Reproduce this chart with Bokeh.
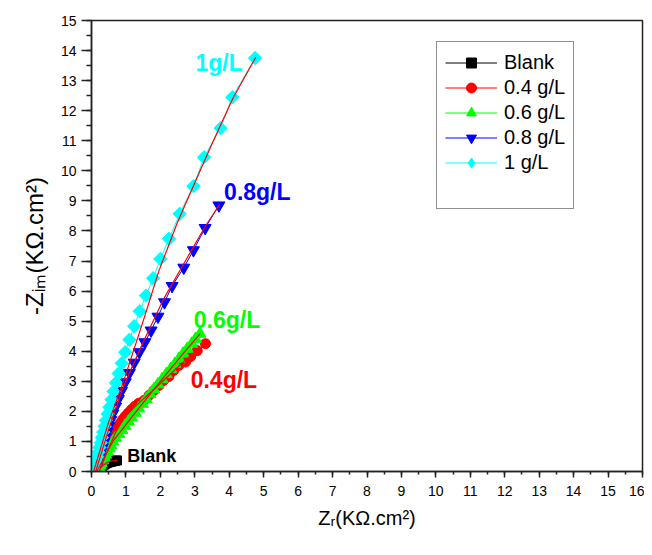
import math
from bokeh.plotting import figure
from bokeh.models import Range1d, SingleIntervalTicker, Legend, LegendItem
from bokeh.core.properties import value
from bokeh.embed import file_html
from bokeh.resources import INLINE

FONT = "Liberation Sans"

series_names = ["Blank", "0.4 g/L", "0.6 g/L", "0.8 g/L", "1 g/L"]
series_colors = ["#000000", "#FF0000", "#00FF00", "#0000FF", "#00FFFF"]
series_markers = ["square", "circle", "triangle", "inverted_triangle", "square"]
legend_markers = ["square", "circle", "triangle", "inverted_triangle", "diamond"]
marker_angles = [0, 0, 0, 0, math.pi / 4]
marker_sizes = [9, 10, 12, 12, 9.5]

blank_x = [0.22, 0.26, 0.30, 0.34, 0.38, 0.42, 0.46, 0.50, 0.54, 0.58, 0.62, 0.66, 0.70, 0.74]
blank_y = [0.05, 0.12, 0.17, 0.21, 0.24, 0.27, 0.29, 0.31, 0.32, 0.33, 0.34, 0.35, 0.36, 0.37]

c04_x = [0.25, 0.29, 0.33, 0.38, 0.43, 0.48, 0.53, 0.58, 0.64, 0.70, 0.76, 0.83, 0.90, 0.98, 1.07,
         1.16, 1.26, 1.37, 1.52, 1.67, 1.81, 1.96, 2.10, 2.25, 2.39, 2.54, 2.73, 2.88, 3.07, 3.31]
c04_y = [0.10, 0.22, 0.35, 0.48, 0.62, 0.76, 0.90, 1.04, 1.18, 1.32, 1.46, 1.60, 1.72, 1.84, 1.95,
         2.06, 2.17, 2.27, 2.36, 2.53, 2.69, 2.86, 3.03, 3.16, 3.36, 3.53, 3.64, 3.82, 4.02, 4.25]

c06_x = [0.18, 0.21, 0.25, 0.28, 0.33, 0.37, 0.41, 0.46, 0.51, 0.56, 0.62, 0.70, 0.79, 0.88, 0.97,
         1.07, 1.16, 1.27, 1.37, 1.48, 1.59, 1.70, 1.81, 1.93, 2.05, 2.17, 2.30, 2.42, 2.54, 2.66,
         2.78, 2.91, 3.02, 3.15]
c06_y = [0.05, 0.12, 0.20, 0.28, 0.37, 0.46, 0.56, 0.66, 0.77, 0.88, 1.00, 1.12, 1.25, 1.38, 1.52,
         1.66, 1.80, 1.95, 2.10, 2.25, 2.41, 2.57, 2.73, 2.90, 3.07, 3.24, 3.41, 3.58, 3.75, 3.92,
         4.08, 4.25, 4.41, 4.58]

c08_x = [0.13, 0.16, 0.19, 0.22, 0.25, 0.28, 0.32, 0.36, 0.40, 0.45, 0.50, 0.56, 0.62, 0.70, 0.78,
         0.87, 0.98, 1.10, 1.24, 1.39, 1.55, 1.73, 1.93, 2.12, 2.34, 2.68, 2.96, 3.30, 3.70]
c08_y = [0.07, 0.16, 0.27, 0.39, 0.52, 0.66, 0.81, 0.97, 1.14, 1.32, 1.51, 1.71, 1.93, 2.16, 2.41,
         2.68, 2.97, 3.28, 3.62, 3.97, 4.30, 4.69, 5.15, 5.63, 6.17, 6.78, 7.36, 8.10, 8.85]

c1_x = [0.06, 0.10, 0.13, 0.17, 0.20, 0.23, 0.27, 0.30, 0.34, 0.38, 0.42, 0.47, 0.52, 0.58, 0.64,
        0.71, 0.79, 0.88, 0.98, 1.10, 1.24, 1.40, 1.58, 1.79, 2.00, 2.25, 2.56, 2.96, 3.27, 3.75,
        4.09, 4.75]
c1_y = [0.10, 0.22, 0.35, 0.49, 0.64, 0.80, 0.96, 1.13, 1.31, 1.50, 1.70, 1.91, 2.14, 2.39, 2.66,
        2.95, 3.26, 3.60, 3.97, 4.38, 4.83, 5.33, 5.85, 6.43, 7.07, 7.74, 8.57, 9.49, 10.45, 11.42,
        12.45, 13.75]

fit_blank_x = [0.28, 0.45, 0.60, 0.75]
fit_blank_y = [0.15, 0.30, 0.35, 0.38]
fit04_x = [0.22, 0.45, 0.70, 0.95, 1.30, 1.80, 2.30, 2.80, 3.31]
fit04_y = [0.00, 0.65, 1.30, 1.80, 2.20, 2.72, 3.25, 3.78, 4.25]
fit06_x = [0.15, 0.62, 1.30, 2.00, 2.72, 3.15]
fit06_y = [0.00, 1.00, 2.00, 3.00, 4.00, 4.58]
fit08_x = [0.12, 0.50, 0.90, 1.50, 2.10, 2.70, 3.30, 3.72]
fit08_y = [0.00, 1.40, 2.75, 4.30, 5.75, 6.95, 8.15, 8.88]
fit1_x = [0.06, 0.50, 0.94, 1.50, 1.96, 2.50, 3.00, 3.50, 4.10, 4.77]
fit1_y = [0.00, 1.65, 3.03, 5.00, 6.68, 8.30, 9.60, 10.90, 12.40, 13.78]

ann_text = ["1g/L", "0.8g/L", "0.6g/L", "0.4g/L", "Blank"]
ann_x = [3.02, 3.85, 2.97, 2.88, 1.04]
ann_y = [13.57, 9.28, 5.04, 3.05, 0.53]
ann_color = ["#00FFFF", "#0000FF", "#00FF00", "#FF0000", "#000000"]
ann_size = ["23px", "23px", "23px", "23px", "18px"]

x_label = "Z\u1d63(K\u03a9.cm\u00b2)"
y_label = "-Z\u1d62\u2098(K\u03a9.cm\u00b2)"

p = figure(width=644, height=547, output_backend="svg", toolbar_location=None,
           x_range=Range1d(0, 16), y_range=Range1d(0, 15),
           min_border_left=91, min_border_right=2, min_border_top=20, min_border_bottom=76)
p.grid.visible = False
p.outline_line_color = "#222222"
p.outline_line_width = 1.5
p.background_fill_color = "white"

p.xaxis.ticker = SingleIntervalTicker(interval=1, num_minor_ticks=2)
p.yaxis.ticker = SingleIntervalTicker(interval=1, num_minor_ticks=2)
for ax in (p.xaxis, p.yaxis):
    ax.axis_line_color = "#222222"
    ax.axis_line_width = 1.5
    ax.major_tick_line_color = "#222222"
    ax.minor_tick_line_color = "#222222"
    ax.major_tick_line_width = 1.5
    ax.minor_tick_line_width = 1.5
    ax.major_tick_in = 0
    ax.minor_tick_in = 0
    ax.major_label_text_font = FONT
    ax.major_label_text_font_size = "14px"
    ax.major_label_text_color = "black"
    ax.axis_label_text_font = FONT
    ax.axis_label_text_font_style = "normal"
    ax.axis_label_text_color = "black"
p.xaxis.major_tick_out = 6
p.xaxis.minor_tick_out = 3
p.yaxis.major_tick_out = 10
p.yaxis.minor_tick_out = 5
p.xaxis.major_label_standoff = 8
p.yaxis.major_label_standoff = 5
p.xaxis.axis_label = x_label
p.yaxis.axis_label = y_label
p.xaxis.axis_label_text_font_size = "20px"
p.yaxis.axis_label_text_font_size = "24px"
p.xaxis.axis_label_standoff = 8
p.yaxis.axis_label_standoff = 10

data = [(blank_x, blank_y), (c04_x, c04_y), (c06_x, c06_y), (c08_x, c08_y), (c1_x, c1_y)]
fits = [(fit_blank_x, fit_blank_y), (fit04_x, fit04_y), (fit06_x, fit06_y),
        (fit08_x, fit08_y), (fit1_x, fit1_y)]

items = []
for (xs, ys), name, col, mk, lmk, ang, ms in zip(data, series_names, series_colors, series_markers,
                                                 legend_markers, marker_angles, marker_sizes):
    lr = p.line(xs, ys, line_color=col, line_width=1)
    sr = p.scatter(xs, ys, marker=mk, size=ms, angle=ang, fill_color=col, line_color=col)
    if lmk != mk:
        # legend swatch only (legend ignores marker angle); its point lies outside the view
        proxy = p.scatter(x=[-5], y=[-5], marker=lmk, size=ms, fill_color=col, line_color=col)
        items.append(LegendItem(label=name, renderers=[lr, proxy]))
    else:
        items.append(LegendItem(label=name, renderers=[lr, sr]))

for xs, ys in fits:
    p.line(xs, ys, line_color="#FF0000", line_width=1.2)

for t, x, y, c, s in zip(ann_text, ann_x, ann_y, ann_color, ann_size):
    p.text(x=[x], y=[y], text=[t], text_color=c, text_font=value(FONT),
           text_font_size=s, text_font_style="bold", text_align="left",
           text_baseline="alphabetic")

dummy = p.scatter(x=[-5], y=[-5], size=1, alpha=0)
items.append(LegendItem(label=" ", renderers=[dummy]))

legend = Legend(items=items, location=(345, 262))
legend.border_line_color = "#222222"
legend.border_line_width = 1.5
legend.background_fill_color = "white"
legend.background_fill_alpha = 1
legend.label_text_font = FONT
legend.label_text_font_size = "20px"
legend.label_text_color = "black"
legend.glyph_width = 52
legend.glyph_height = 25
legend.label_height = 25
legend.spacing = 0
legend.padding = 8
legend.label_standoff = 7
legend.margin = 0
p.add_layout(legend)

open("out.html", "w").write(file_html(p, INLINE))
